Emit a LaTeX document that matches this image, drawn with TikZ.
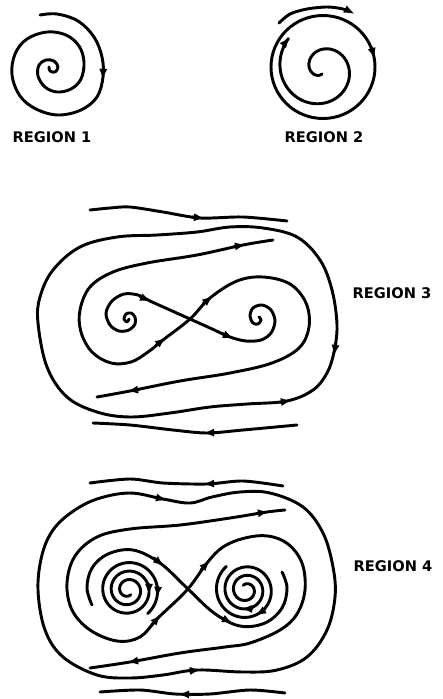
\documentclass[tikz,border=0pt]{standalone}
\usepackage{fontspec}
\setsansfont{DejaVu Sans}
\usetikzlibrary{arrows.meta}

\begin{document}
\begin{tikzpicture}[x=0.03cm, y=-0.03cm,
  flow/.style={line width=2.5pt, line cap=round, line join=round},
  tip/.style={flow, -{Latex[length=9.5pt, width=7pt]}},
  lab/.style={font=\sffamily\bfseries\fontsize{12.5}{14}\selectfont}]

\useasboundingbox (0,0) rectangle (442,699);

% Region 1: spiral inward
\draw[flow] plot[smooth, tension=0.6] coordinates {(40,15) (57,14) (78,21) (94,37) (102,57) (103,77)
  (97,97) (81,110) (58,115) (36,109) (20,96) (12,75) (15,54) (27,39) (47,32) (66,35) (79,46)
  (84,62) (81,79) (71,89) (57,92) (45,87) (38,76) (39,65) (46,60) (54,61) (58,67) (55,72)
  (50,71) (49,67)};
\draw[tip] (103.3,68) -- (102.8,80);
\node[lab] (reg1) at (52,137) {REGION 1};

% Region 2: cycle, spiral out from inside
\draw[flow] (323,67) ellipse [x radius=52, y radius=51.5];
\draw[tip] (371.5,47.5) -- (374.6,59);
\draw[tip] plot[domain=-270:225, samples=150, smooth, variable=\t]
  ({322+0.082*(\t+330)*cos(\t)}, {69+0.082*(\t+330)*sin(\t)});
\draw[tip] plot[smooth] coordinates {(279,23) (290,14) (307,9) (327,7) (343,9) (355,14)};
\node[lab] (reg2) at (324,137) {REGION 2};

% Region 3: outside streamlines
\draw[flow] plot[smooth] coordinates {(90,210) (110,208) (130,207) (163,212) (200,218) (243,217) (287,221)};
\draw[tip] (192,217) -- (205,218.4);
\draw[flow] plot[smooth] coordinates {(93,423) (130,425) (173,430) (207,433) (243,430) (297,425)};
\draw[tip] (216,432.6) -- (203,433);

% Region 3: big cycle
\draw[flow] plot[smooth cycle, tension=0.6] coordinates {(38,323) (40,297) (53,270) (80,247) (117,237)
  (157,235) (197,232) (230,227) (263,228) (297,237) (320,260) (332,290) (337,325) (334,352)
  (327,373) (313,390) (287,401) (247,404) (210,407) (170,413) (130,417) (97,412) (67,397) (47,367)};
\draw[tip] (335.8,343) -- (334,356);
\draw[tip] (280,402.2) -- (292,400.3);

% Region 3: outer figure eight
\draw[flow] plot[smooth, tension=0.6] coordinates {(273,240) (243,245) (197,255) (147,263) (113,272)
  (90,287) (80,310) (81,332) (92,352) (111,363) (131,362) (148,352) (163,340) (190,319) (210,298)
  (237,281) (263,277) (290,284) (306,303) (309,327) (299,348) (272,363) (230,373) (180,381)
  (130,391) (97,397)};
\draw[tip] (234,246.6) -- (246,244.5);
\draw[tip] (156,345.3) -- (166,337.5);
\draw[tip] (203,304) -- (213,295.5);
\draw[tip] (139,389.4) -- (127,391.5);

% Region 3: separatrix into the foci
\draw[flow] plot[smooth, tension=0.55] coordinates {(129,319) (127,322) (124,319) (126,314) (131,313)
  (135,317) (135,324) (129,330) (119,331) (110,325) (106,313) (112,301) (124,294) (138,295)
  (150,301) (170,310) (190,319) (210,328) (230,337) (246,341) (261,340) (271,333) (275,321)
  (271,310) (262,305) (253,308) (250,316) (253,323) (258,324) (261,320) (259,317)};
\draw[tip] (140,296.6) -- (151,301.8);
\draw[tip] (222,333.5) -- (234,338.8);
\node[lab] (reg3) at (392,293) {REGION 3};

% Region 4: outside streamlines
\draw[flow] plot[smooth] coordinates {(90,483) (130,479) (163,483) (207,484) (243,481) (283,486)};
\draw[tip] (216,483.5) -- (203,484);
\draw[flow] plot[smooth] coordinates {(100,692) (140,690) (175,694) (210,694) (250,690) (285,693)};
\draw[tip] (191,694.6) -- (178,694);

% Region 4: big cycle
\draw[flow] plot[smooth cycle, tension=0.6] coordinates {(38,590) (42,555) (53,530) (72,512) (97,499)
  (130,493) (163,499) (190,503) (212,497) (240,492) (270,493) (303,507) (323,533) (333,567)
  (335,597) (327,630) (307,657) (277,670) (243,672) (197,670) (163,675) (130,678) (97,675)
  (63,657) (45,630)};
\draw[tip] (155,497.2) -- (167,500.2);
\draw[tip] (189,670.9) -- (201,669.8);

% Region 4: outer figure eight
\draw[flow] plot[smooth, tension=0.6] coordinates {(285,510) (267,512) (230,518) (180,525) (130,529)
  (97,537) (75,556) (67,583) (72,610) (90,630) (117,641) (140,637) (158,618) (187,590) (207,563)
  (223,547) (245,538) (268,536) (288,544) (302,563) (305,590) (297,614) (280,630) (250,643)
  (225,647) (180,653) (130,662) (90,668)};
\draw[tip] (257,513.4) -- (269,511.6);
\draw[tip] (152,624.6) -- (161,614.5);
\draw[tip] (201,570) -- (210,560);
\draw[tip] (139,660.4) -- (127,662.5);

% Region 4: separatrix
\draw[flow] plot[smooth, tension=0.6] coordinates {(92,605) (87,588) (92,568) (108,554) (133,550)
  (160,563) (187,588) (214,613) (240,626) (265,623) (282,608) (287,588) (282,572)};
\draw[tip] (154,558) -- (164,566.5);
\draw[tip] (222,618) -- (233,623.5);

% Region 4: spirals round the foci
\draw[flow] plot[domain=60:1130, samples=220, smooth, variable=\t]
  ({128+(4+0.0236*\t)*cos(\t)}, {590+(4+0.0236*\t)*sin(\t)});
\draw[tip] (149,584) -- (149,595);
\draw[tip] (158,587) -- (157.1,598);
\draw[flow] plot[domain=240:1310, samples=220, smooth, variable=\t]
  ({246+(4+0.0236*(\t-180))*cos(\t)}, {590+(4+0.0236*(\t-180))*sin(\t)});
\draw[tip] (252,608.9) -- (241,608.7);
\draw[tip] (264.5,610) -- (255,615.6);
\node[lab] (reg4) at (393,566) {REGION 4};

\end{tikzpicture}
\end{document}
